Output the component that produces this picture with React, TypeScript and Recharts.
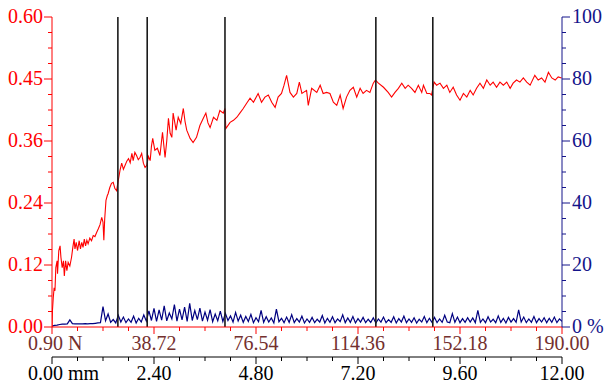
import React from 'react';
import { LineChart, Line, XAxis, YAxis, ReferenceLine } from 'recharts';

// friction coefficient, [travel in mm, mu]
const friction: [number, number][] = [
  [0.0, 0.0], [0.01, 0.031], [0.03, 0.057], [0.05, 0.076], [0.07, 0.07], [0.09, 0.115],
  [0.12, 0.128], [0.13, 0.103], [0.16, 0.148], [0.19, 0.157], [0.21, 0.135], [0.24, 0.115],
  [0.27, 0.128], [0.29, 0.099], [0.32, 0.128], [0.35, 0.109], [0.38, 0.125], [0.42, 0.118],
  [0.46, 0.135], [0.49, 0.154], [0.52, 0.17], [0.54, 0.151], [0.57, 0.164], [0.6, 0.148],
  [0.64, 0.167], [0.67, 0.151], [0.7, 0.164], [0.73, 0.154], [0.76, 0.17], [0.79, 0.157],
  [0.82, 0.168], [0.85, 0.161], [0.89, 0.172], [0.93, 0.167], [0.97, 0.177], [1.01, 0.175],
  [1.05, 0.183], [1.09, 0.19], [1.13, 0.198], [1.17, 0.212], [1.2, 0.203], [1.22, 0.168],
  [1.24, 0.209], [1.27, 0.245], [1.3, 0.254], [1.32, 0.258], [1.36, 0.27], [1.4, 0.278],
  [1.44, 0.28], [1.48, 0.268], [1.52, 0.264], [1.56, 0.284], [1.6, 0.303], [1.64, 0.317],
  [1.68, 0.305], [1.72, 0.313], [1.76, 0.321], [1.8, 0.326], [1.84, 0.318], [1.88, 0.336],
  [1.91, 0.322], [1.95, 0.338], [1.99, 0.332], [2.03, 0.324], [2.07, 0.328], [2.11, 0.336],
  [2.15, 0.317], [2.19, 0.309], [2.23, 0.313], [2.27, 0.33], [2.31, 0.322], [2.34, 0.35],
  [2.37, 0.365], [2.42, 0.342], [2.48, 0.346], [2.54, 0.332], [2.6, 0.377], [2.66, 0.328],
  [2.7, 0.36], [2.74, 0.404], [2.78, 0.375], [2.82, 0.367], [2.85, 0.414], [2.92, 0.381],
  [2.97, 0.406], [3.03, 0.394], [3.09, 0.423], [3.13, 0.398], [3.17, 0.381], [3.25, 0.365],
  [3.32, 0.357], [3.4, 0.367], [3.48, 0.39], [3.56, 0.404], [3.62, 0.414], [3.67, 0.395],
  [3.72, 0.386], [3.8, 0.406], [3.88, 0.4], [3.95, 0.419], [4.03, 0.414], [4.07, 0.423],
  [4.09, 0.384], [4.19, 0.396], [4.27, 0.4], [4.35, 0.406], [4.42, 0.414], [4.5, 0.423],
  [4.58, 0.433], [4.66, 0.443], [4.74, 0.435], [4.85, 0.452], [4.93, 0.435], [5.01, 0.445],
  [5.09, 0.449], [5.17, 0.435], [5.25, 0.425], [5.32, 0.445], [5.4, 0.452], [5.46, 0.468],
  [5.52, 0.487], [5.6, 0.454], [5.68, 0.445], [5.76, 0.452], [5.82, 0.474], [5.88, 0.452],
  [5.99, 0.458], [6.03, 0.429], [6.11, 0.462], [6.23, 0.454], [6.31, 0.468], [6.38, 0.452],
  [6.46, 0.454], [6.54, 0.452], [6.62, 0.435], [6.7, 0.429], [6.78, 0.449], [6.85, 0.423],
  [6.93, 0.445], [7.01, 0.458], [7.09, 0.464], [7.17, 0.445], [7.25, 0.462], [7.32, 0.452],
  [7.4, 0.458], [7.48, 0.454], [7.56, 0.472], [7.61, 0.478], [7.68, 0.472], [7.8, 0.464],
  [7.91, 0.454], [7.99, 0.445], [8.07, 0.454], [8.15, 0.462], [8.23, 0.472], [8.31, 0.462],
  [8.38, 0.468], [8.46, 0.462], [8.54, 0.454], [8.62, 0.468], [8.7, 0.454], [8.74, 0.468],
  [8.82, 0.452], [8.89, 0.452], [8.93, 0.449], [8.99, 0.474], [9.05, 0.468], [9.13, 0.472],
  [9.21, 0.462], [9.29, 0.468], [9.36, 0.454], [9.44, 0.464], [9.52, 0.449], [9.6, 0.439],
  [9.68, 0.452], [9.76, 0.445], [9.84, 0.458], [9.91, 0.449], [9.99, 0.462], [10.07, 0.472],
  [10.15, 0.462], [10.23, 0.478], [10.31, 0.468], [10.38, 0.474], [10.46, 0.464], [10.54, 0.474],
  [10.62, 0.468], [10.7, 0.474], [10.78, 0.462], [10.85, 0.472], [10.93, 0.478], [11.01, 0.474],
  [11.09, 0.482], [11.17, 0.474], [11.25, 0.468], [11.36, 0.487], [11.44, 0.478], [11.52, 0.482],
  [11.6, 0.474], [11.68, 0.493], [11.76, 0.482], [11.84, 0.478], [11.91, 0.484], [11.99, 0.482],
];

// second channel in %, sampled every 0.06 mm
const wearStep = 0.06;
const wear: number[] = [
  0.3, 0.5, 0.6, 0.8, 0.9, 0.9, 1.0, 2.3, 1.1, 1.0, 1.0, 1.0, 1.0, 1.1, 1.0, 1.1, 1.1, 1.2, 1.3, 1.4,
  6.6, 2.0, 4.2, 1.5, 2.4, 1.3, 3.8, 1.6, 3.2, 1.4, 2.6, 1.5, 3.5, 1.3, 2.8, 1.6, 3.9, 1.9, 5.2, 2.1,
  6.0, 1.8, 5.5, 2.2, 6.8, 2.0, 4.5, 2.6, 7.2, 1.9, 5.8, 2.3, 6.4, 1.8, 7.6, 2.1, 5.3, 2.4, 6.1, 1.9,
  4.8, 2.2, 5.6, 1.7, 4.2, 2.0, 5.1, 1.8, 4.4, 2.1, 3.6, 1.6, 4.7, 1.9, 3.8, 1.5, 3.4, 1.8, 4.1, 1.4,
  3.0, 1.7, 5.4, 1.5, 3.3, 1.6, 2.9, 1.3, 5.8, 1.7, 2.8, 1.4, 3.2, 1.5, 4.0, 1.4, 2.7, 1.6, 3.5, 1.3,
  2.6, 1.5, 3.1, 1.4, 2.5, 1.6, 3.7, 1.3, 2.8, 1.5, 3.3, 1.4, 2.6, 1.7, 3.9, 1.4, 2.9, 1.5, 3.4, 1.3,
  2.7, 1.6, 3.1, 1.4, 2.5, 1.5, 3.0, 1.3, 2.6, 1.6, 3.2, 1.4, 2.4, 1.5, 3.3, 1.3, 2.7, 1.6, 3.5, 1.4,
  2.6, 1.5, 3.0, 1.3, 2.5, 1.6, 3.4, 1.4, 2.8, 1.5, 3.1, 1.4, 2.6, 1.5, 3.8, 1.6, 1.4, 4.3, 1.5, 3.2,
  1.4, 2.7, 1.5, 3.0, 1.6, 2.9, 1.4, 5.4, 1.5, 2.6, 1.4, 3.3, 1.6, 2.5, 1.4, 3.6, 1.5, 2.8, 1.3, 3.1,
  1.6, 2.7, 1.5, 5.5, 1.6, 3.2, 1.4, 2.6, 1.5, 3.4, 1.4, 2.7, 1.6, 3.0, 1.4, 2.8, 1.5, 3.2, 1.4, 2.6, 1.8,
];

// vertical marker lines (mm)
const markers = [1.55, 2.24, 4.07, 7.62, 8.96];

const muTicks = [0, 0.03, 0.06, 0.09, 0.12, 0.15, 0.18, 0.21, 0.24, 0.27, 0.3, 0.33, 0.36, 0.39, 0.42, 0.45, 0.48, 0.51, 0.54, 0.57, 0.6];
const muLabels = ['0.00', '0.12', '0.24', '0.36', '0.45', '0.60'];
const pctTicks = [0, 5, 10, 15, 20, 25, 30, 35, 40, 45, 50, 55, 60, 65, 70, 75, 80, 85, 90, 95, 100];
const pctLabels = ['0 %', '20', '40', '60', '80', '100'];
const mmTicks = [0, 0.6, 1.2, 1.8, 2.4, 3, 3.6, 4.2, 4.8, 5.4, 6, 6.6, 7.2, 7.8, 8.4, 9, 9.6, 10.2, 10.8, 11.4, 12];
const mmLabels = ['0.00 mm', '2.40', '4.80', '7.20', '9.60', '12.00'];
const nLabels = ['0.90 N', '38.72', '76.54', '114.36', '152.18', '190.00'];
const nTicks = mmTicks.map((_, i) => 0.9 + (i * (190 - 0.9)) / 20);

const frictionData = friction.map(([x, mu]) => ({ x, mu }));
const wearData = wear.map((pct, i) => ({ x: +(i * wearStep).toFixed(2), pct }));

const serif = '"Liberation Serif", "DejaVu Serif", serif';
const textStyle = { fontFamily: serif, fontSize: 20 };
const RED = '#ff0000';
const NAVY = '#14148a';
const BROWN = '#74302e';

const LeftTick = ({ x, y, index }: any) => {
  const major = index % 4 === 0;
  return (
    <g>
      <line x1={x - (major ? 8 : 4)} x2={x} y1={y} y2={y} stroke={RED} strokeWidth={1} />
      {major && (
        <text x={x - 9} y={y} dy="0.32em" textAnchor="end" fill={RED} style={textStyle}>
          {muLabels[index / 4]}
        </text>
      )}
    </g>
  );
};

const RightTick = ({ x, y, index }: any) => {
  const major = index % 4 === 0;
  return (
    <g>
      <line x1={x} x2={x + (major ? 8 : 4)} y1={y} y2={y} stroke={NAVY} strokeWidth={1} />
      {major && (
        <text x={x + 10} y={y} dy="0.32em" textAnchor="start" fill={NAVY} style={textStyle}>
          {pctLabels[index / 4]}
        </text>
      )}
    </g>
  );
};

const makeBottomTick = (labels: string[], tickColor: string, textColor: string) => ({ x, y, index }: any) => {
  const major = index % 4 === 0;
  return (
    <g>
      <line x1={x} x2={x} y1={y} y2={y + (major ? 7 : 4)} stroke={tickColor} strokeWidth={1} />
      {major && (
        <text
          x={index === 0 ? x - 24 : x}
          y={y + 23}
          textAnchor={index === 0 ? 'start' : 'middle'}
          fill={textColor}
          style={textStyle}
        >
          {labels[index / 4]}
        </text>
      )}
    </g>
  );
};

const NTick = makeBottomTick(nLabels, RED, BROWN);
const MmTick = makeBottomTick(mmLabels, '#000', '#000');

export default function App() {
  return (
    <div style={{ position: 'absolute', left: 0, top: 0, background: '#fff' }}>
      <LineChart width={604} height={385} margin={{ top: 17, right: 0, bottom: 0, left: 0 }}>
        <XAxis
          xAxisId="b_mm"
          dataKey="x"
          type="number"
          domain={[0, 12]}
          allowDataOverflow
          ticks={mmTicks}
          interval={0}
          height={28}
          tickSize={0}
          tickMargin={0}
          tickLine={false}
          axisLine={{ stroke: '#000' }}
          tick={<MmTick />}
        />
        <XAxis
          xAxisId="a_n"
          dataKey="x"
          type="number"
          domain={[0.9, 190]}
          allowDataOverflow
          ticks={nTicks}
          interval={0}
          height={30}
          tickSize={0}
          tickMargin={0}
          tickLine={false}
          axisLine={{ stroke: RED }}
          tick={<NTick />}
        />
        <YAxis
          yAxisId="mu"
          type="number"
          domain={[0, 0.6]}
          allowDataOverflow
          ticks={muTicks}
          interval={0}
          width={52}
          tickSize={0}
          tickMargin={0}
          tickLine={false}
          axisLine={{ stroke: RED }}
          tick={<LeftTick />}
        />
        <YAxis
          yAxisId="pct"
          orientation="right"
          type="number"
          domain={[0, 100]}
          allowDataOverflow
          ticks={pctTicks}
          interval={0}
          width={42}
          tickSize={0}
          tickMargin={0}
          tickLine={false}
          axisLine={{ stroke: NAVY }}
          tick={<RightTick />}
        />
        <Line
          data={wearData}
          dataKey="pct"
          xAxisId="b_mm"
          yAxisId="pct"
          type="linear"
          stroke="#000080"
          strokeWidth={1.2}
          dot={false}
          isAnimationActive={false}
        />
        <Line
          data={frictionData}
          dataKey="mu"
          xAxisId="b_mm"
          yAxisId="mu"
          type="linear"
          stroke={RED}
          strokeWidth={1.1}
          dot={false}
          isAnimationActive={false}
        />
        {markers.map((m) => (
          <ReferenceLine key={m} x={m} xAxisId="b_mm" yAxisId="mu" stroke="#1a1a1a" strokeWidth={1.6} />
        ))}
      </LineChart>
    </div>
  );
}
